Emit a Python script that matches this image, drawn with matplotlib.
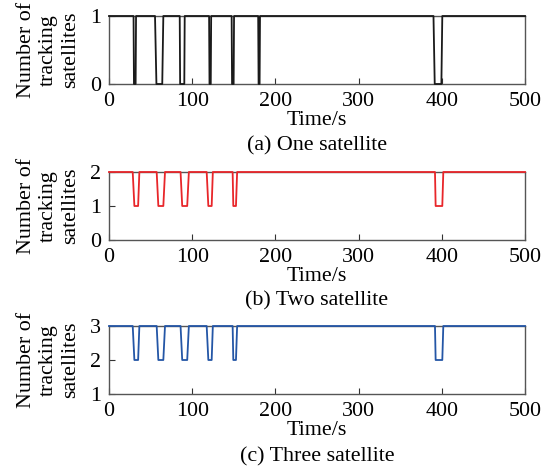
import matplotlib
matplotlib.use("Agg")
import matplotlib.pyplot as plt

# ---- data ----
t1 = [0, 29.5, 30, 32, 32.5, 55.3, 57, 64, 65.3, 85, 85.5, 90.5, 91, 120.3, 120.8, 122.3, 122.8,
      147.4, 147.9, 149.8, 150.3, 179.3, 179.8, 181, 181.5, 390, 391.5, 399.5, 400.6, 500]
y1 = [1, 1, 0, 0, 1, 1, 0, 0, 1, 1, 0, 0, 1, 1, 0, 0, 1,
      1, 0, 0, 1, 1, 0, 0, 1, 1, 0, 0, 1, 1]

t2 = [0, 28.5, 30.5, 35, 36.5, 57.3, 59.3, 65.3, 67.3, 86, 88, 94, 96, 117.4, 119.4, 123.4, 124.8,
      148.6, 149.4, 152.6, 154, 391.8, 392.6, 400.6, 401.8, 500]
y2 = [2, 2, 1, 1, 2, 2, 1, 1, 2, 2, 1, 1, 2, 2, 1, 1, 2,
      2, 1, 1, 2, 2, 1, 1, 2, 2]

t3 = t2
y3 = [v + 1 for v in y2]

xticks = [0, 100, 200, 300, 400, 500]
captions = ["(a) One satellite", "(b) Two satellite", "(c) Three satellite"]
ylims = [(0, 1), (0, 2), (1, 3)]
yticks = [[0, 1], [0, 1, 2], [1, 2, 3]]
colors = ["#1a1a1a", "#e8262a", "#2456a6"]
series = [(t1, y1), (t2, y2), (t3, y3)]

plt.rcParams['font.family'] = ['Liberation Serif', 'DejaVu Serif']
FS = 15.8
plt.rcParams['font.size'] = FS

W, H = 554, 473
fig = plt.figure(figsize=(W / 100, H / 100), dpi=100)

tops = [16, 172, 326]
bots = [84, 240, 394]
cap_y = [146, 301, 457]
left, right = 109, 525

for i in range(3):
    ax = fig.add_axes([left / W, (H - bots[i]) / H, (right - left) / W, (bots[i] - tops[i]) / H])
    t, y = series[i]
    ax.plot(t, y, color=colors[i], lw=1.3, zorder=3, clip_on=False)
    ax.set_xlim(0, 500)
    ax.set_ylim(*ylims[i])
    ax.set_xticks(xticks)
    ax.set_yticks(yticks[i])
    ax.tick_params(direction='in', length=4, width=0.8, color='#333333', labelsize=FS, pad=6)
    for s in ax.spines.values():
        s.set_color('#555555')
        s.set_linewidth(1.0)
    ax.set_xlabel("Time/s", fontsize=FS, labelpad=0)
    ax.set_ylabel("Number of\ntracking\nsatellites", fontsize=FS, linespacing=1.2, labelpad=7)
    fig.text((left + right) / 2 / W, 1 - cap_y[i] / H, captions[i], ha='center', va='center', fontsize=FS)

fig.savefig("out.png", dpi=100)
